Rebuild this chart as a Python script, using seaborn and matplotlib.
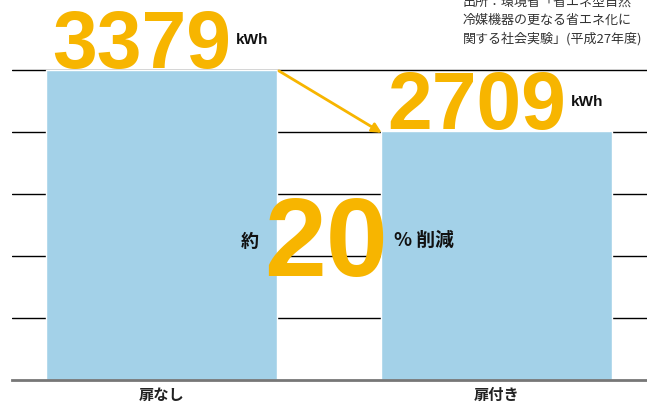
import seaborn as sns
import matplotlib.pyplot as plt
import numpy as np
import pandas as pd

categories = ['扉なし', '扉付き']
values = [3379, 2709]
reduction = '20'
unit = 'kWh'
source = '出所：環境省「省エネ型自然\n冷媒機器の更なる省エネ化に\n関する社会実験」(平成27年度)'

orange = '#F7B500'
blue = '#A3D1E8'
jp = ['Noto Sans CJK JP', 'DejaVu Sans']
num = ['Liberation Sans', 'DejaVu Sans']

sns.set_style('white')
plt.rcParams['font.family'] = jp

df = pd.DataFrame({'cat': categories, 'kwh': values})

fig = plt.figure(figsize=(6.47, 4.05), dpi=100)
ax = fig.add_axes([12 / 647, 25 / 405, 1 - 12 / 647, 380 / 405])
sns.barplot(data=df, x='cat', y='kwh', color=blue, saturation=1, width=0.69, ax=ax, zorder=2)

ax.set_xlim(-0.446, 1.45)
ax.set_ylim(0, 4142)
step = values[0] / 5
ax.set_yticks(np.arange(1, 6) * step)
ax.set_yticklabels([])
ax.grid(axis='y', color='black', lw=1)
ax.grid(axis='x', visible=False)
ax.set_axisbelow(True)
for s in ['top', 'left', 'right']:
    ax.spines[s].set_visible(False)
ax.spines['bottom'].set_color('#777777')
ax.spines['bottom'].set_linewidth(2)
ax.tick_params(axis='both', length=0)
ax.tick_params(axis='x', pad=5)
ax.set_xticks(range(len(categories)))
ax.set_xticklabels(categories, fontsize=11, fontweight='bold', color='#222222')
ax.set_xlabel('')
ax.set_ylabel('')

# value labels
for i, v in enumerate(values):
    ax.text(i - 0.06, v + 25, str(v), ha='center', va='baseline', fontsize=58,
            fontweight='bold', color=orange, family=num, zorder=4)
    ax.text(i + 0.222, v + 280, unit, ha='left', va='baseline', fontsize=11,
            fontweight='bold', color='#111111', family=num, zorder=4)

# arrow between bar tops
ax.annotate('', xy=(0.658, values[1] - 15), xytext=(0.351, values[0] - 10),
            arrowprops=dict(arrowstyle='-|>', color=orange, lw=2,
                            mutation_scale=14, shrinkA=0, shrinkB=0), zorder=4)

# reduction label
ax.text(0.49, 1130, reduction, ha='center', va='baseline', fontsize=80,
        fontweight='bold', color=orange, family=num, zorder=4)
ax.text(0.265, 1515, '約', ha='center', va='center', fontsize=13,
        fontweight='bold', color='#111111', zorder=4)
ax.text(0.785, 1525, '% 削減', ha='center', va='center', fontsize=13.5,
        fontweight='bold', color='#111111', zorder=4)

fig.text(463 / 647, 1 + 4 / 405, source, ha='left', va='top', fontsize=9.4,
         color='#333333', linespacing=1.5)

fig.savefig('out.png', dpi=100)
